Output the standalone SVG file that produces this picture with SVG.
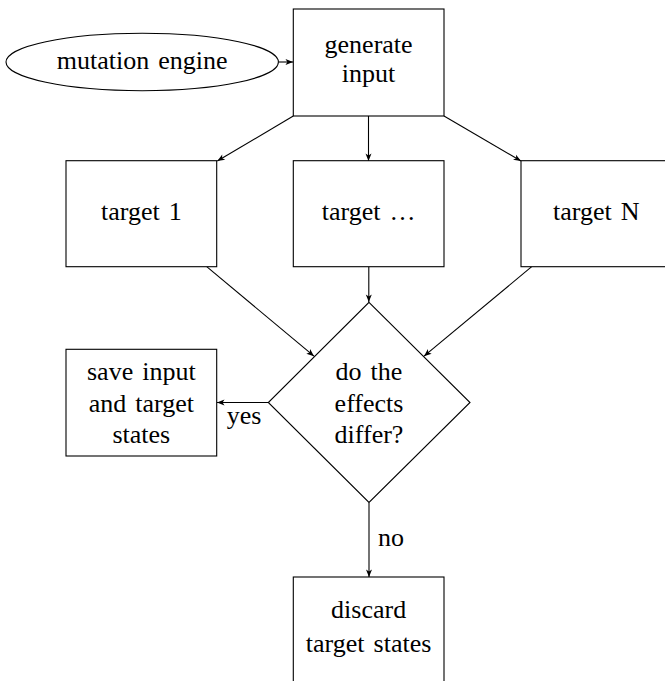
<svg xmlns="http://www.w3.org/2000/svg" width="665" height="681" viewBox="0 0 665 681" font-family="Liberation Serif, Times New Roman, DejaVu Serif, serif">
<defs>
<marker id="arr" viewBox="-8 -4 9 8" refX="0" refY="0" markerWidth="9" markerHeight="8" markerUnits="userSpaceOnUse" orient="auto">
<path d="M0,0 L-7.5,-3 L-5.6,0 L-7.5,3 Z" fill="#000"/>
</marker>
<style>
.n{fill:#fff;stroke:#000;stroke-width:1.1}
.t{font-size:26px;fill:#000;text-anchor:middle;word-spacing:2.5px}
.c{stroke:#000;stroke-width:1.1;fill:none;marker-end:url(#arr)}
</style>
</defs>
<rect width="665" height="681" fill="#fff"/>
<g id="connectors">
<line class="c" x1="278.4" y1="62" x2="293" y2="62"/>
<line class="c" x1="293.3" y1="116" x2="217.3" y2="161"/>
<line class="c" x1="368.5" y1="116" x2="368.5" y2="161"/>
<line class="c" x1="444" y1="116" x2="521" y2="161"/>
<line class="c" x1="206.7" y1="266.7" x2="314" y2="356.2"/>
<line class="c" x1="368.8" y1="266.7" x2="368.8" y2="302"/>
<line class="c" x1="531.7" y1="266.7" x2="424" y2="356.2"/>
<line class="c" x1="268.3" y1="402.5" x2="217" y2="402.5"/>
<line class="c" x1="369" y1="502.5" x2="369" y2="577"/>
<text class="t" x="244" y="423.5">yes</text>
<text class="t" x="391" y="546">no</text>
</g>
<g id="mutation">
<ellipse class="n" cx="142.2" cy="62" rx="136.2" ry="28.7"/>
<text class="t" x="142.2" y="69">mutation engine</text>
</g>
<g id="generate">
<rect class="n" x="293.3" y="9" width="150.7" height="107"/>
<text class="t" x="368.6" y="53.3">generate</text>
<text class="t" x="368.6" y="81.7">input</text>
</g>
<g id="target1">
<rect class="n" x="66" y="160.7" width="150.7" height="106"/>
<text class="t" x="141.3" y="220">target 1</text>
</g>
<g id="targetdots">
<rect class="n" x="293.3" y="160.7" width="150.7" height="106"/>
<text class="t" x="368.6" y="220">target …</text>
</g>
<g id="targetN">
<rect class="n" x="521" y="160.7" width="150.7" height="106"/>
<text class="t" x="596.3" y="220">target N</text>
</g>
<g id="differ">
<polygon class="n" points="369,302.3 470,402.5 369,502.5 268.3,402.5"/>
<text class="t" x="369" y="380">do the</text>
<text class="t" x="369" y="411.7">effects</text>
<text class="t" x="369" y="443.3">differ?</text>
</g>
<g id="save">
<rect class="n" x="66" y="349.3" width="150.7" height="106.7"/>
<text class="t" x="141.3" y="380">save input</text>
<text class="t" x="141.3" y="411.7">and target</text>
<text class="t" x="141.3" y="443.3">states</text>
</g>
<g id="discard">
<rect class="n" x="293.3" y="577" width="150.7" height="107"/>
<text class="t" x="368.6" y="618">discard</text>
<text class="t" x="368.6" y="651.7">target states</text>
</g>
</svg>
